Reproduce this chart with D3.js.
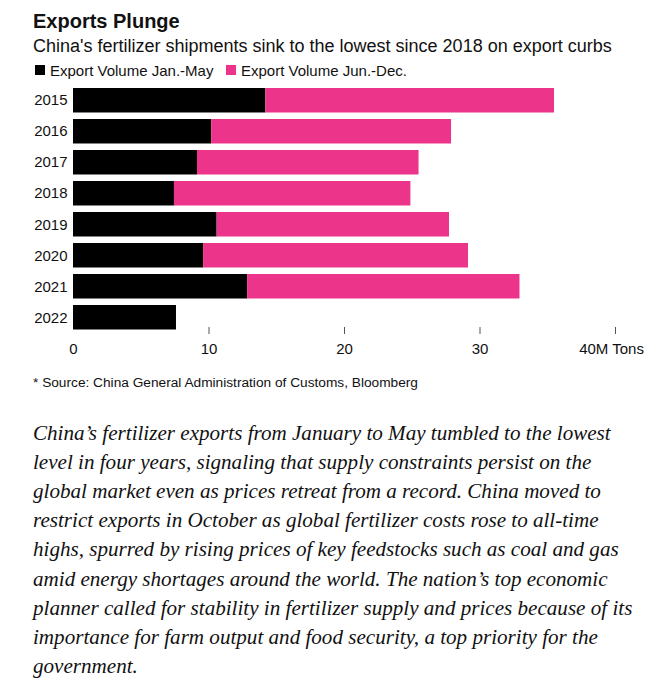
<!DOCTYPE html>
<html>
<head>
<meta charset="utf-8">
<script src="https://d3js.org/d3.v7.min.js"></script>
<style>
html, body { margin: 0; padding: 0; background: #fff; }
svg { display: block; }
text { font-family: "Liberation Sans", sans-serif; fill: #111; }
.note { font-family: "Liberation Serif", serif; font-style: italic; font-size: 21.1px; fill: #111; }
</style>
</head>
<body>
<div id="chart"></div>
<script>
const years = ['2015', '2016', '2017', '2018', '2019', '2020', '2021', '2022'];
const janMay = [14.2, 10.2, 9.15, 7.45, 10.6, 9.6, 12.85, 7.6];
const junDec = [21.3, 17.7, 16.35, 17.45, 17.15, 19.55, 20.1, 0];
const seriesNames = ['Export Volume Jan.-May', 'Export Volume Jun.-Dec.'];
const tickValues = [0, 10, 20, 30, 40];
const noteLines = [
    'China’s fertilizer exports from January to May tumbled to the lowest',
    'level in four years, signaling that supply constraints persist on the',
    'global market even as prices retreat from a record. China moved to',
    'restrict exports in October as global fertilizer costs rose to all-time',
    'highs, spurred by rising prices of key feedstocks such as coal and gas',
    'amid energy shortages around the world. The nation’s top economic',
    'planner called for stability in fertilizer supply and prices because of its',
    'importance for farm output and food security, a top priority for the',
    'government.'
];

const width = 672;
const height = 680;
const black = '#000';
const pink = '#ec348a';

const svg = d3.select('#chart').append('svg')
    .attr('width', width)
    .attr('height', height);

const x = d3.scaleLinear().domain([0, 40]).range([73, 615]);
const y = d3.scaleBand().domain(years).range([88, 329.5]).paddingInner(0.21).paddingOuter(0);

svg.append('text').attr('x', 33).attr('y', 28)
    .style('font-size', '20px').style('font-weight', 'bold').text('Exports Plunge');
svg.append('text').attr('x', 33).attr('y', 52)
    .style('font-size', '18px').text('China\'s fertilizer shipments sink to the lowest since 2018 on export curbs');

// legend
const legendX = [35, 226];
seriesNames.forEach((name, i) => {
    svg.append('rect').attr('x', legendX[i]).attr('y', 65).attr('width', 10).attr('height', 10)
        .attr('fill', i === 0 ? black : pink);
    svg.append('text').attr('x', legendX[i] + 15).attr('y', 75.5)
        .style('font-size', '15px').text(name);
});

// bars
svg.append('g').selectAll('rect')
    .data(years)
    .join('rect')
        .attr('x', x(0))
        .attr('y', d => y(d))
        .attr('width', (d, i) => x(janMay[i]) - x(0))
        .attr('height', y.bandwidth())
        .attr('fill', black);

svg.append('g').selectAll('rect')
    .data(years.filter((d, i) => junDec[i] > 0))
    .join('rect')
        .attr('x', d => x(janMay[years.indexOf(d)]))
        .attr('y', d => y(d))
        .attr('width', d => x(junDec[years.indexOf(d)]) - x(0))
        .attr('height', y.bandwidth())
        .attr('fill', pink);

// year labels
svg.append('g').selectAll('text')
    .data(years)
    .join('text')
        .attr('x', 67.5)
        .attr('y', d => y(d) + y.bandwidth() / 2)
        .attr('dy', '0.35em')
        .attr('text-anchor', 'end')
        .style('font-size', '15px')
        .text(d => d);

// value axis
const axis = d3.axisBottom(x)
    .tickValues(tickValues)
    .tickSize(7)
    .tickPadding(9)
    .tickFormat(d => d === 40 ? '40M Tons' : d);

const axisG = svg.append('g').attr('transform', 'translate(0,327)').call(axis);
axisG.select('.domain').remove();
axisG.selectAll('line').attr('stroke', '#555').filter(d => d === 0).remove();
axisG.selectAll('text').style('font-size', '15px').attr('fill', '#111');
axisG.selectAll('.tick text').filter(d => d === 40).attr('dx', -4);

svg.append('text').attr('x', 33).attr('y', 387)
    .style('font-size', '13.7px').text('* Source: China General Administration of Customs, Bloomberg');

svg.append('g').selectAll('text')
    .data(noteLines)
    .join('text')
        .attr('class', 'note')
        .attr('x', 33)
        .attr('y', (d, i) => 440 + i * 29.1)
        .text(d => d);
</script>
</body>
</html>
